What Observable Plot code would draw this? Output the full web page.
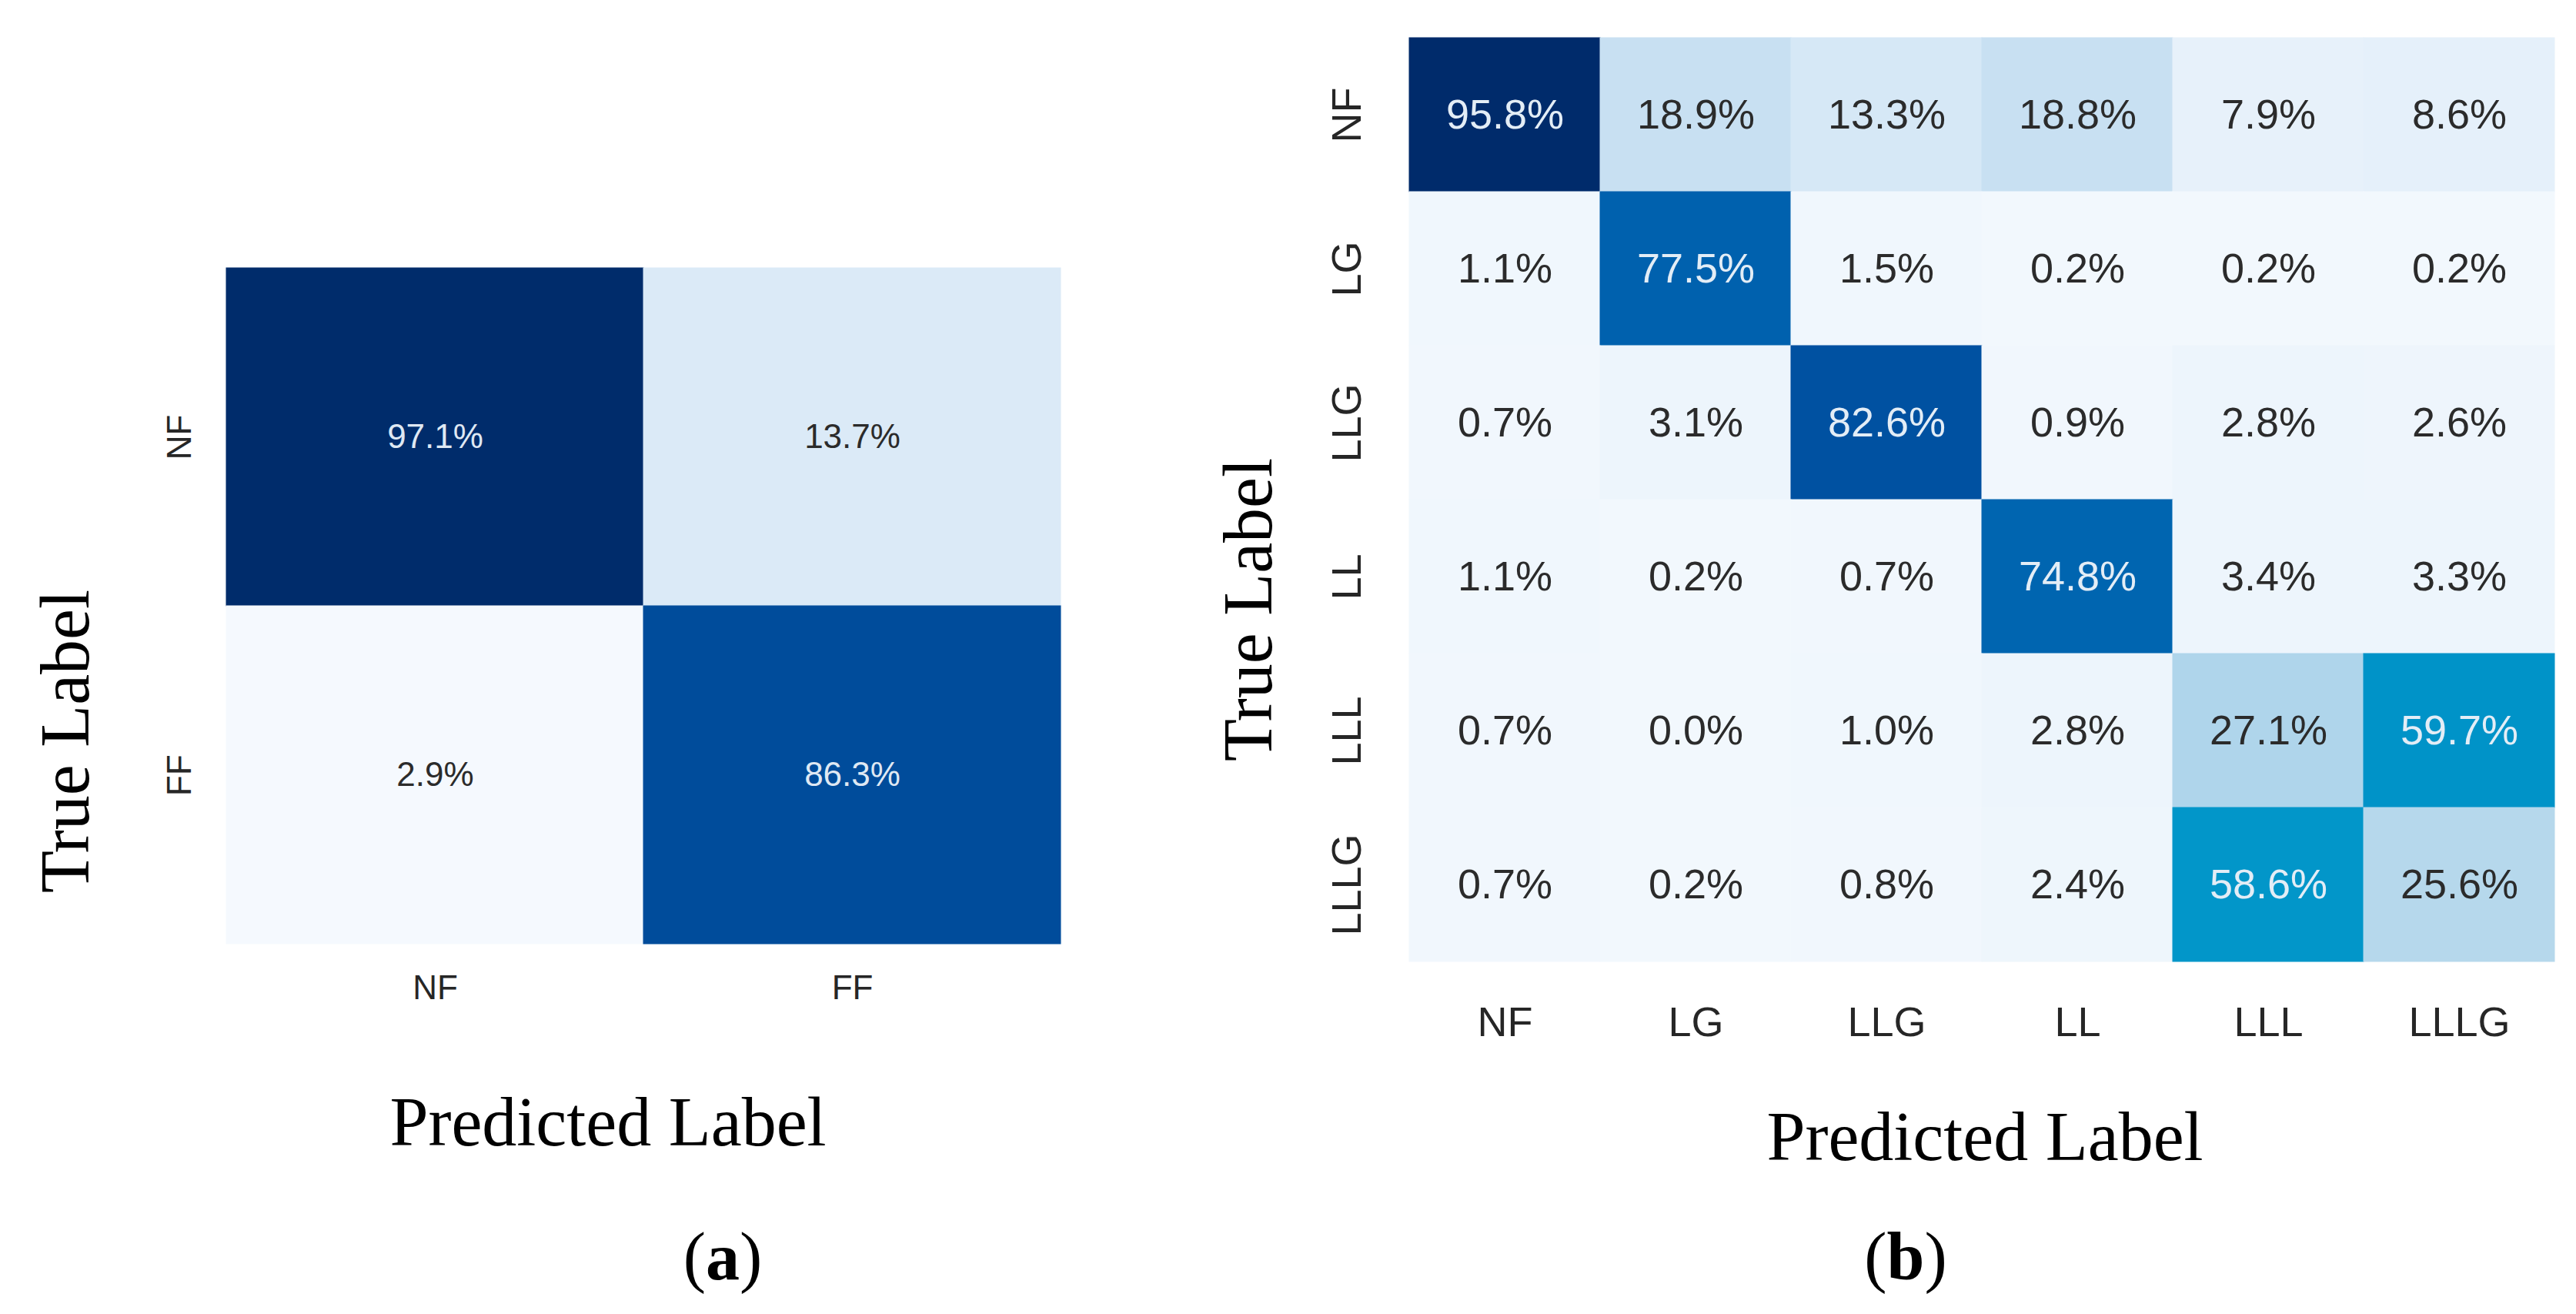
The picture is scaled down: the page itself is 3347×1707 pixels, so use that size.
<!DOCTYPE html>
<html>
<head>
<meta charset="utf-8">
<script src="https://cdn.jsdelivr.net/npm/d3@7"></script>
<script src="https://cdn.jsdelivr.net/npm/@observablehq/plot@0.6"></script>
<style>
  html, body { margin: 0; padding: 0; background: #fff; }
  #page { position: relative; width: 3347px; height: 1707px; overflow: hidden; background: #fff; }
  .panel { position: absolute; top: 0; }
  .lbl { position: absolute; font-family: "Liberation Serif", "DejaVu Serif", serif; color: #000; white-space: nowrap; line-height: 1; }
  .rot { transform: translate(-50%, -50%) rotate(-90deg); }
  .ctr { transform: translate(-50%, -50%); }
</style>
</head>
<body>
<div id="page">
  <div id="panelA" class="panel" style="left:0px"></div>
  <div id="panelB" class="panel" style="left:1500px"></div>
  <div class="lbl rot" style="left:85px; top:963px; font-size:90px;">True Label</div>
  <div class="lbl ctr" style="left:790px; top:1458px; font-size:90px;">Predicted Label</div>
  <div class="lbl ctr" style="left:939px; top:1633px; font-size:88px;">(<b>a</b>)</div>
  <div class="lbl rot" style="left:1622px; top:792px; font-size:90px;">True Label</div>
  <div class="lbl ctr" style="left:2579px; top:1477px; font-size:90px;">Predicted Label</div>
  <div class="lbl ctr" style="left:2476px; top:1633px; font-size:88px;">(<b>b</b>)</div>
</div>
<script>
// ---- Data: panel (a) ----
const labelsA = ["NF", "FF"];
const valuesA = [
  [97.1, 13.7],
  [2.9, 86.3]
];

// ---- Data: panel (b) ----
const labelsB = ["NF", "LG", "LLG", "LL", "LLL", "LLLG"];
const valuesB = [
  [95.8, 18.9, 13.3, 18.8, 7.9, 8.6],
  [1.1, 77.5, 1.5, 0.2, 0.2, 0.2],
  [0.7, 3.1, 82.6, 0.9, 2.8, 2.6],
  [1.1, 0.2, 0.7, 74.8, 3.4, 3.3],
  [0.7, 0.0, 1.0, 2.8, 27.1, 59.7],
  [0.7, 0.2, 0.8, 2.4, 58.6, 25.6]
];

function toCells(labels, values) {
  const out = [];
  labels.forEach((t, i) => labels.forEach((p, j) => out.push({t, p, v: values[i][j]})));
  return out;
}
const cellsA = toCells(labelsA, valuesA);
const cellsB = toCells(labelsB, valuesB);
const fmt = d => d.v.toFixed(1) + "%";

const chartA = Plot.plot({
  width: 1500, height: 1360,
  marginLeft: 294, marginTop: 348, marginRight: 122, marginBottom: 134,
  style: {fontFamily: "'Liberation Sans Narrow', 'Liberation Sans', Arial, sans-serif", background: "transparent"},
  x: {type: "band", domain: labelsA, padding: 0, label: null},
  y: {type: "band", domain: labelsA, padding: 0, label: null},
  color: {type: "linear", domain: [2.9, 13.7, 86.3, 97.1], range: ["#f5f9fe", "#dbeaf7", "#004c9b", "#002c6b"], interpolate: "rgb"},
  marks: [
    Plot.cell(cellsA, {x: "p", y: "t", fill: "v", stroke: "v", strokeWidth: 1}),
    Plot.text(cellsA.filter(d => d.v > 50), {x: "p", y: "t", text: fmt, fill: "#dfe8f3", fontSize: 44}),
    Plot.text(cellsA.filter(d => d.v <= 50), {x: "p", y: "t", text: fmt, fill: "#2b2b2b", fontSize: 44}),
    Plot.axisX({tickSize: 0, tickPadding: 40, fontSize: 44, label: null, color: "#262626"}),
    Plot.axisY({tickSize: 0, tickPadding: 47, tickRotate: -90, fontSize: 44, label: null, color: "#262626"})
  ]
});
document.getElementById("panelA").appendChild(chartA);

const chartB = Plot.plot({
  width: 1847, height: 1400,
  marginLeft: 331, marginTop: 47, marginRight: 28, marginBottom: 150,
  style: {fontFamily: "'Liberation Sans', Arial, sans-serif", background: "transparent"},
  x: {type: "band", domain: labelsB, padding: 0, label: null},
  y: {type: "band", domain: labelsB, padding: 0, label: null},
  color: {
    type: "linear",
    domain: [0, 3, 8, 13.3, 19, 26, 59, 75, 78, 83, 96],
    range: ["#f2f8fd", "#edf5fc", "#e7f1fa", "#d6e8f6", "#c8e0f2", "#b5d7ec", "#0095c9", "#0064b0", "#0060ad", "#0050a0", "#002a6a"],
    interpolate: "rgb"
  },
  marks: [
    Plot.cell(cellsB, {x: "p", y: "t", fill: "v", stroke: "v", strokeWidth: 1}),
    Plot.text(cellsB.filter(d => d.v > 50), {x: "p", y: "t", text: fmt, fill: "#e3edf6", fontSize: 54}),
    Plot.text(cellsB.filter(d => d.v <= 50), {x: "p", y: "t", text: fmt, fill: "#2b2b2b", fontSize: 54}),
    Plot.axisX({tickSize: 0, tickPadding: 57, fontSize: 54, label: null, color: "#262626"}),
    Plot.axisY({tickSize: 0, tickPadding: 64, tickRotate: -90, fontSize: 54, label: null, color: "#262626"})
  ]
});
document.getElementById("panelB").appendChild(chartB);
</script>
</body>
</html>
